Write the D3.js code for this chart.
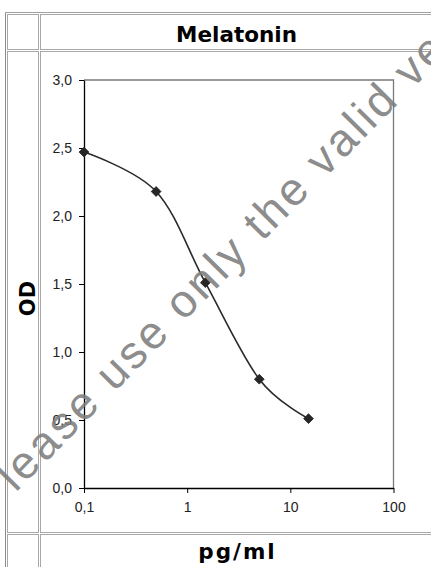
<!DOCTYPE html>
<html>
<head>
<meta charset="utf-8">
<script src="https://cdn.jsdelivr.net/npm/d3@7"></script>
<style>
  html, body { margin: 0; padding: 0; background: #fff; }
  svg { display: block; }
</style>
</head>
<body>
<svg id="chart" width="431" height="567"></svg>
<script>
// ---- data ----
const chartTitle = "Melatonin";
const xAxisTitle = "pg/ml";
const yAxisTitle = "OD";
const concentrations = [0.1, 0.5, 1.5, 5, 15];
const odValues = [2.47, 2.18, 1.51, 0.80, 0.51];
const xTickValues = [0.1, 1, 10, 100];
const xTickLabels = ["0,1", "1", "10", "100"];
const yTickValues = [0, 0.5, 1, 1.5, 2, 2.5, 3];
const yTickLabels = ["0,0", "0,5", "1,0", "1,5", "2,0", "2,5", "3,0"];
const watermarkText = "Please use only the valid version";

const svg = d3.select("#chart");
svg.append("rect").attr("width", 431).attr("height", 567).attr("fill", "#fff");

// ---- table frame ----
const frame = svg.append("g").attr("fill", "none");
frame.append("line").attr("x1", 5.5).attr("x2", 5.5).attr("y1", 12).attr("y2", 567).attr("stroke", "#8c8c8c");
frame.append("line").attr("x1", 5).attr("x2", 431).attr("y1", 12.5).attr("y2", 12.5).attr("stroke", "#a0a0a0");
const cells = [
  [7.5, 14.5, 31, 35], [40.5, 14.5, 420, 35],
  [7.5, 51.5, 31, 481], [40.5, 51.5, 420, 481],
  [7.5, 534.5, 31, 100], [40.5, 534.5, 420, 100]
];
frame.selectAll("rect.cell").data(cells).join("rect")
  .attr("class", "cell")
  .attr("x", d => d[0]).attr("y", d => d[1])
  .attr("width", d => d[2]).attr("height", d => d[3])
  .attr("stroke", "#a8a8a8");

// ---- titles ----
const boldFont = "'DejaVu Sans', Verdana, sans-serif";
const plainFont = "'Liberation Sans', Arial, sans-serif";

svg.append("text").attr("x", 236.5).attr("y", 41.5)
  .attr("text-anchor", "middle")
  .style("font-family", boldFont)
  .attr("font-weight", "bold").attr("font-size", 21.5)
  .attr("fill", "#000").text(chartTitle);

svg.append("text").attr("x", 237.5).attr("y", 559)
  .attr("text-anchor", "middle")
  .style("font-family", boldFont)
  .attr("font-weight", "bold").attr("font-size", 21.5)
  .attr("letter-spacing", 2)
  .attr("fill", "#000").text(xAxisTitle);

svg.append("text")
  .attr("transform", "translate(35,298.5) rotate(-90)")
  .attr("text-anchor", "middle")
  .style("font-family", boldFont)
  .attr("font-weight", "bold").attr("font-size", 21)
  .attr("fill", "#000").text(yAxisTitle);

// ---- scales ----
const x = d3.scaleLog().domain([0.1, 100]).range([84, 393.5]);
const y = d3.scaleLinear().domain([0, 3]).range([488, 80]);

// plot border (top/right grey)
svg.append("path")
  .attr("d", `M${x(0.1)},${y(3)}H${x(100)}V${y(0)}`)
  .attr("fill", "none").attr("stroke", "#7a7a7a").attr("stroke-width", 1.3);

// ---- axes ----
const yAxis = d3.axisLeft(y).tickValues(yTickValues)
  .tickFormat((d, i) => yTickLabels[i]).tickSize(5).tickSizeOuter(0).tickPadding(7);
const gy = svg.append("g").attr("transform", `translate(${x(0.1)},0)`).call(yAxis);

const xAxis = d3.axisBottom(x).tickValues(xTickValues)
  .tickFormat((d, i) => xTickLabels[i]).tickSize(5).tickSizeOuter(0).tickPadding(9);
const gx = svg.append("g").attr("transform", `translate(0,${y(0)})`).call(xAxis);

[gx, gy].forEach(g => {
  g.select(".domain").attr("stroke", "#000").attr("stroke-width", 1.3);
  g.selectAll(".tick line").attr("stroke", "#000");
  g.selectAll(".tick text")
    .style("font-family", plainFont)
    .attr("font-size", 14).attr("fill", "#222");
});

// ---- series ----
const pts = concentrations.map((c, i) => [c, odValues[i]]);
const line = d3.line().x(d => x(d[0])).y(d => y(d[1])).curve(d3.curveCardinal.tension(0));
svg.append("path").datum(pts).attr("d", line)
  .attr("fill", "none").attr("stroke", "#2a2a2a").attr("stroke-width", 1.6);

const marker = d3.symbol().type(d3.symbolSquare).size(48);
svg.selectAll("path.marker").data(pts).join("path")
  .attr("class", "marker")
  .attr("transform", d => `translate(${x(d[0])},${y(d[1])}) rotate(45)`)
  .attr("d", marker)
  .attr("fill", "#262626").attr("stroke", "#262626").attr("stroke-width", 0.8);

// ---- watermark ----
svg.append("text")
  .attr("transform", "translate(-8,517) rotate(-45.5)")
  .style("font-family", plainFont)
  .attr("font-size", 46).attr("letter-spacing", 3)
  .attr("fill", "#7d7d7d").attr("fill-opacity", 0.9)
  .text(watermarkText);
</script>
</body>
</html>
